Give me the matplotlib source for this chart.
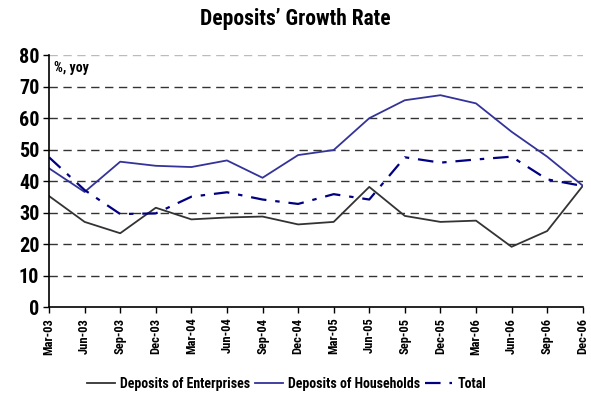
import matplotlib
matplotlib.use('Agg')
import matplotlib.pyplot as plt

plt.rcParams['font.family'] = ['Roboto Condensed', 'DejaVu Sans']
plt.rcParams['font.weight'] = 'heavy'

quarters = ['Mar-03', 'Jun-03', 'Sep-03', 'Dec-03', 'Mar-04', 'Jun-04', 'Sep-04', 'Dec-04',
            'Mar-05', 'Jun-05', 'Sep-05', 'Dec-05', 'Mar-06', 'Jun-06', 'Sep-06', 'Dec-06']
enterprises = [35.3, 27.1, 23.5, 31.6, 27.9, 28.5, 28.8, 26.3,
               27.1, 38.2, 29.0, 27.1, 27.5, 19.2, 24.2, 38.5]
households = [44.1, 36.6, 46.2, 44.9, 44.5, 46.6, 41.1, 48.3,
              49.9, 60.0, 65.7, 67.3, 64.7, 55.7, 47.8, 38.6]
total = [47.6, 37.2, 29.6, 29.8, 35.1, 36.5, 34.2, 32.8,
         35.9, 34.2, 47.6, 45.9, 46.9, 47.8, 40.6, 38.5]
yticks = [0, 10, 20, 30, 40, 50, 60, 70, 80]

fig = plt.figure(figsize=(5.91, 3.94), dpi=100)
ax = fig.add_axes([0.083, 0.22, 0.903, 0.64])

x = list(range(len(quarters)))
ax.plot(x, enterprises, color='#333333', lw=1.3, label='Deposits of Enterprises')
ax.plot(x, households, color='#333399', lw=1.3, label='Deposits of Households')
ax.plot(x, total, color='#000080', lw=1.6, dashes=(7, 4, 2, 4), label='Total')

ax.set_xlim(0, len(quarters) - 1)
ax.set_ylim(0, 80)
ax.set_yticks(yticks)
ax.set_yticklabels([str(v) for v in yticks], fontsize=14.5, fontweight='heavy')
ax.set_xticks(x)
ax.set_xticklabels(quarters, rotation=90, fontsize=9, fontweight='heavy')
ax.tick_params(axis='both', direction='out', length=4, width=1, color='black')
ax.tick_params(axis='y', pad=3)

for v in yticks[1:]:
    c = '#bbbbbb' if v == 80 else '#333333'
    ax.axhline(v, color=c, lw=1, dashes=(6, 4), zorder=0)

for side in ['top', 'right']:
    ax.spines[side].set_visible(False)
ax.spines['left'].set_linewidth(1.2)
ax.spines['bottom'].set_linewidth(1.2)

ax.text(0.01, 0.975, '%, yoy', transform=ax.transAxes, fontsize=10,
        fontweight='heavy', va='top', ha='left')

fig.suptitle('Deposits’ Growth Rate', y=0.98, fontsize=15.5, fontweight='heavy')

fig.legend(loc='lower center', bbox_to_anchor=(0.485, -0.025), ncol=3, frameon=False,
           handlelength=2.0, handletextpad=0.35, columnspacing=0.35,
           prop={'weight': 'heavy', 'size': 10})

fig.savefig('out.png', dpi=100)
